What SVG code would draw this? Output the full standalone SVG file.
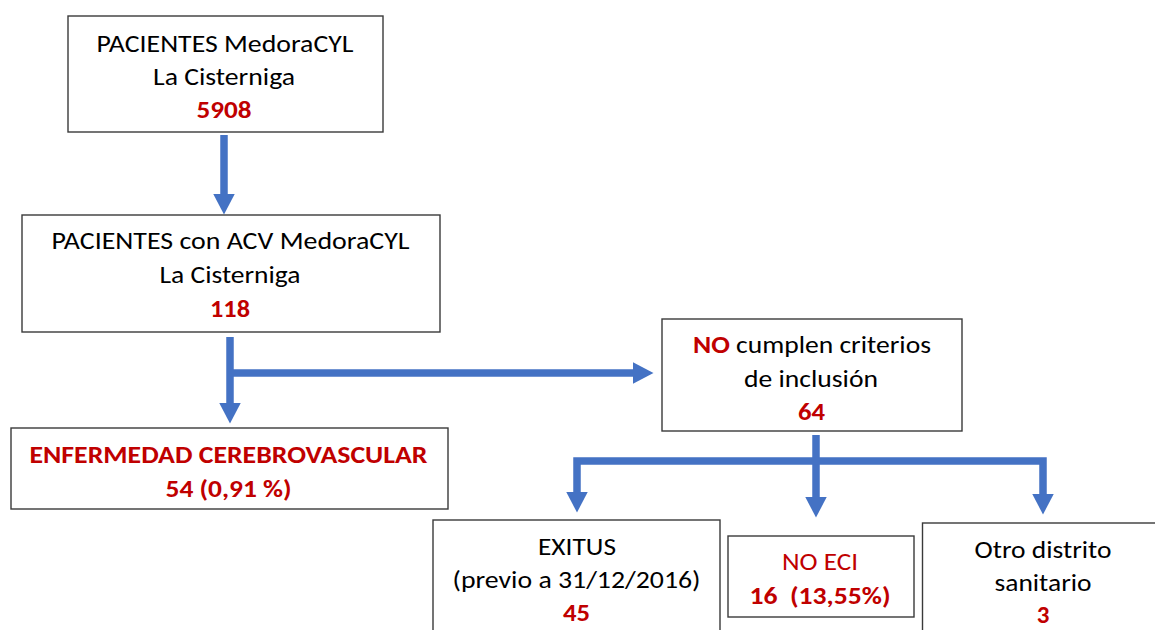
<svg xmlns="http://www.w3.org/2000/svg" width="1155" height="630" viewBox="0 0 1155 630">
  <style>
    .box { fill: #ffffff; stroke: #3a3a3a; stroke-width: 1.4; }
    .t { font-family: Calibri, Carlito, Lato, "Liberation Sans", sans-serif; font-size: 25px; fill: #000000; text-anchor: middle; }
    .r { fill: #C00000; }
    .b { font-weight: bold; }
    .conn { fill: none; stroke: #4472C4; stroke-width: 7.5; stroke-linejoin: miter; }
  </style>
  <defs>
    <marker id="ah" viewBox="0 0 21 22" refX="0.5" refY="11" markerWidth="21" markerHeight="22" markerUnits="userSpaceOnUse" orient="auto-start-reverse">
      <path d="M0,0 L21,11 L0,22 Z" fill="#4472C4"/>
    </marker>
  </defs>
  <rect width="1155" height="630" fill="#ffffff"/>

  <g id="connectors">
    <path class="conn" d="M224,135 V194" marker-end="url(#ah)"/>
    <path class="conn" d="M230,337 V403" marker-end="url(#ah)"/>
    <path class="conn" d="M230,373 H633" marker-end="url(#ah)"/>
    <path class="conn" d="M816,435 V497" marker-end="url(#ah)"/>
    <path class="conn" d="M577,492 V461 H1043 V494" marker-start="url(#ah)" marker-end="url(#ah)"/>
  </g>

  <g id="node-pacientes">
    <rect class="box" x="68" y="16" width="315" height="116"/>
    <text class="t" x="225" y="52" textLength="257" lengthAdjust="spacingAndGlyphs">PACIENTES MedoraCYL</text>
    <text class="t" x="224" y="85" textLength="142" lengthAdjust="spacingAndGlyphs">La Cisterniga</text>
    <text class="t r b" x="224" y="118" textLength="55" lengthAdjust="spacingAndGlyphs">5908</text>
  </g>

  <g id="node-acv">
    <rect class="box" x="22" y="215" width="418" height="117"/>
    <text class="t" x="230.5" y="249" textLength="358" lengthAdjust="spacingAndGlyphs">PACIENTES con ACV MedoraCYL</text>
    <text class="t" x="230" y="283" textLength="141" lengthAdjust="spacingAndGlyphs">La Cisterniga</text>
    <text class="t r b" x="230" y="317" textLength="40" lengthAdjust="spacingAndGlyphs">118</text>
  </g>

  <g id="node-ecv">
    <rect class="box" x="11" y="428" width="437" height="81"/>
    <text class="t r b" x="228.5" y="463" textLength="398" lengthAdjust="spacingAndGlyphs">ENFERMEDAD CEREBROVASCULAR</text>
    <text class="t r b" x="228.5" y="497" textLength="126" lengthAdjust="spacingAndGlyphs">54 (0,91 %)</text>
  </g>

  <g id="node-no-criterios">
    <rect class="box" x="662" y="319" width="300" height="112"/>
    <text class="t" x="812" y="353" textLength="238" lengthAdjust="spacingAndGlyphs"><tspan class="r b">NO</tspan> cumplen criterios</text>
    <text class="t" x="811" y="387" textLength="134" lengthAdjust="spacingAndGlyphs">de inclusión</text>
    <text class="t r b" x="811.5" y="420" textLength="27" lengthAdjust="spacingAndGlyphs">64</text>
  </g>

  <g id="node-exitus">
    <rect class="box" x="433" y="520" width="287" height="125"/>
    <text class="t" x="577" y="555" textLength="78" lengthAdjust="spacingAndGlyphs">EXITUS</text>
    <text class="t" x="576.5" y="588" textLength="248" lengthAdjust="spacingAndGlyphs">(previo a 31/12/2016)</text>
    <text class="t r b" x="576.5" y="621" textLength="27" lengthAdjust="spacingAndGlyphs">45</text>
  </g>

  <g id="node-no-eci">
    <rect class="box" x="728" y="536" width="186" height="81"/>
    <text class="t r" x="820" y="570" textLength="76" lengthAdjust="spacingAndGlyphs">NO ECI</text>
    <text class="t r b" x="820" y="604" textLength="141" lengthAdjust="spacingAndGlyphs" style="white-space:pre">16  (13,55%)</text>
  </g>

  <g id="node-otro">
    <rect class="box" x="922.5" y="523" width="245" height="125"/>
    <text class="t" x="1043" y="558" textLength="137" lengthAdjust="spacingAndGlyphs">Otro distrito</text>
    <text class="t" x="1043" y="591" textLength="97" lengthAdjust="spacingAndGlyphs">sanitario</text>
    <text class="t r b" x="1043" y="623">3</text>
  </g>
</svg>
